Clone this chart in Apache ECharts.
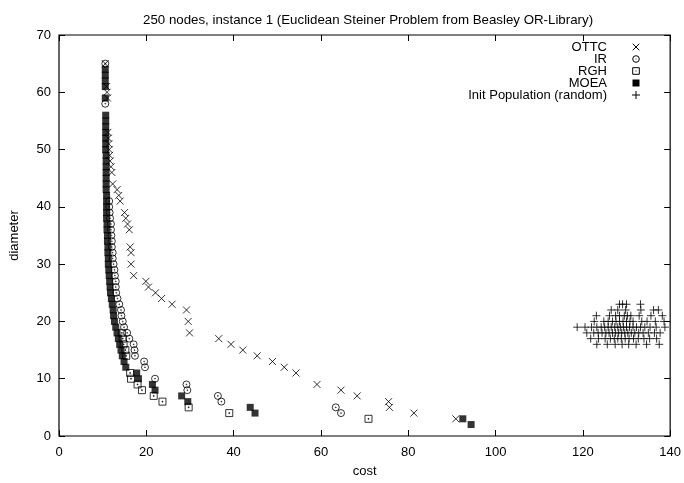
<!DOCTYPE html>
<html><head><meta charset="utf-8">
<script src="https://cdn.jsdelivr.net/npm/echarts@6/dist/echarts.min.js"></script>
<style>html,body{margin:0;padding:0;background:#fff}#c{width:684px;height:483px}</style>
</head><body><div id="c"></div>
<script>
const titleText = '250 nodes, instance 1 (Euclidean Steiner Problem from Beasley OR-Library)';
const seriesNames = ['OTTC', 'IR', 'RGH', 'MOEA', 'Init Population (random)'];
const xTicks = [0, 20, 40, 60, 80, 100, 120, 140];
const yTicks = [0, 10, 20, 30, 40, 50, 60, 70];

const ottc = [[10.6,65],[10.9,61],[11.0,60],[11.1,59],[11.2,53],[11.3,52],[11.4,51],[11.5,50],[11.6,49],[11.7,48],[11.9,47],[12.1,46],[12.3,44],[13.3,43],[13.7,42],[14.0,41],[15.0,39],[15.3,38],[15.7,37],[16.1,36],[16.3,33],[16.5,32],[16.5,30],[17.1,28],[19.9,27],[20.5,26],[22.1,25],[23.5,24],[25.9,23],[29.2,22],[29.6,20],[29.9,18],[36.6,17],[39.4,16],[42.1,15],[45.4,14],[48.9,13],[51.6,12],[54.3,11],[59.1,9],[64.6,8],[68.3,7],[75.5,6],[75.7,5],[81.3,4],[90.9,3]];

const ir = [[10.6,65],[10.6,58],[11.5,41],[11.5,40],[11.6,39],[11.7,38],[11.9,37],[11.9,36],[12.0,35],[12.1,34],[12.1,33],[12.3,32],[12.3,31],[12.5,30],[12.7,29],[12.8,28],[13.0,27],[13.0,26],[13.1,25],[13.4,24],[13.8,23],[14.2,22],[14.3,21],[14.6,20],[14.9,19],[15.6,18],[16.1,17],[17.1,16],[17.3,15],[17.4,14],[19.5,13],[19.7,12],[22.0,10],[29.2,9],[29.4,8],[36.4,7],[37.2,6],[63.4,5],[64.6,4]];

const rgh = [[14.4,18],[14.6,17],[14.8,16],[15.2,15],[15.4,14],[16.3,11],[16.5,10],[18.0,9],[19.0,8],[21.7,7],[23.7,6],[29.7,5],[39.0,4],[70.9,3]];

const moea = [[10.6,64],[10.6,63],[10.6,62],[10.6,61],[10.6,59],[10.7,56],[10.7,55],[10.7,54],[10.7,53],[10.7,52],[10.7,51],[10.7,50],[10.8,49],[10.8,48],[10.8,47],[10.8,46],[10.8,45],[10.8,44],[10.8,43],[10.9,42],[10.9,41],[10.9,40],[10.9,39],[10.9,38],[11.0,37],[11.0,36],[11.1,35],[11.1,34],[11.2,33],[11.2,32],[11.3,31],[11.3,30],[11.4,29],[11.5,28],[11.6,27],[11.7,26],[11.8,25],[12.0,24],[12.2,23],[12.4,22],[12.5,21],[12.7,20],[13.0,19],[13.3,18],[13.6,17],[13.9,16],[14.2,15],[14.5,14],[14.9,13],[15.3,12],[17.8,11],[18.2,10],[21.4,9],[22.0,8],[28.1,7],[29.5,6],[43.8,5],[44.9,4],[92.5,3],[94.4,2]];

const initPop = [
[128.4,23],[129.1,23],[130.0,23],[133.2,23],
[126.5,22],[128.0,22],[129.8,22],[133.3,22],[136.2,22],[137.3,22],
[123.1,21],[126.1,21],[127.5,21],[128.4,21],[129.5,21],[130.2,21],[131.0,21],[132.9,21],[135.6,21],[138.2,21],
[122.6,20],[124.8,20],[125.8,20],[126.8,20],[127.6,20],[128.4,20],[129.2,20],[130.0,20],[130.8,20],[131.5,20],[133.5,20],[134.7,20],[136.6,20],[138.6,20],
[118.7,19],[120.5,19],[122.0,19],[123.2,19],[124.2,19],[125.0,19],[125.8,19],[126.5,19],[127.3,19],[128.0,19],[128.6,19],[129.3,19],[130.0,19],[130.7,19],[131.5,19],[132.3,19],[133.2,19],[134.2,19],[135.4,19],[136.8,19],[138.8,19],
[120.9,18],[122.5,18],[123.5,18],[124.4,18],[125.3,18],[126.0,18],[126.8,18],[127.5,18],[128.2,18],[128.9,18],[129.6,18],[130.3,18],[131.1,18],[131.9,18],[132.8,18],[133.8,18],[135.0,18],[136.4,18],[137.7,18],
[121.8,17],[123.6,17],[125.1,17],[126.3,17],[127.2,17],[128.0,17],[128.8,17],[129.7,17],[130.6,17],[131.6,17],[132.7,17],[134.0,17],[135.3,17],[136.9,17],
[123.2,16],[125.6,16],[127.4,16],[129.0,16],[130.5,16],[132.2,16],[134.6,16],[137.5,16]
];

const FONT = '"Liberation Sans", Arial, Helvetica, sans-serif';
const SYM_X = 'path://M0,0L10,10M10,0L0,10';
const SYM_CIRC = 'path://M10,5A5,5,0,1,1,0,5A5,5,0,1,1,10,5Z M5.6,5A0.6,0.6,0,1,1,4.4,5A0.6,0.6,0,1,1,5.6,5Z';
const SYM_SQ = 'path://M0,0H10V10H0Z M4.4,4.4H5.6V5.6H4.4Z';
const SYM_PLUS = 'path://M5,0V10M0,5H10';

const hollow = {color: 'rgba(0,0,0,0)', borderColor: '#000', borderWidth: 1};

const chart = echarts.init(document.getElementById('c'), null, {renderer: 'canvas'});

const legendRight = 607, symX = 636, legTop = 47, legStep = 12;
const legGraphics = [];
seriesNames.forEach((n, i) => {
  legGraphics.push({type: 'text', x: legendRight, y: legTop + i * legStep,
    style: {text: n, x: 0, y: 0, align: 'right', verticalAlign: 'middle', font: '13px ' + FONT, fill: '#000'}});
});
const s = 3.3;
let y0 = legTop;
legGraphics.push({type: 'line', shape: {x1: symX - s, y1: y0 - s, x2: symX + s, y2: y0 + s}, style: {stroke: '#000', lineWidth: 1}});
legGraphics.push({type: 'line', shape: {x1: symX + s, y1: y0 - s, x2: symX - s, y2: y0 + s}, style: {stroke: '#000', lineWidth: 1}});
y0 = legTop + legStep;
legGraphics.push({type: 'circle', shape: {cx: symX, cy: y0, r: s}, style: {fill: 'none', stroke: '#000', lineWidth: 1}});
legGraphics.push({type: 'circle', shape: {cx: symX, cy: y0, r: 0.5}, style: {fill: '#000'}});
y0 = legTop + 2 * legStep;
legGraphics.push({type: 'rect', shape: {x: symX - s, y: y0 - s, width: 2 * s, height: 2 * s}, style: {fill: 'none', stroke: '#000', lineWidth: 1}});
legGraphics.push({type: 'rect', shape: {x: symX - 0.5, y: y0 - 0.5, width: 1, height: 1}, style: {fill: '#000'}});
y0 = legTop + 3 * legStep;
legGraphics.push({type: 'rect', shape: {x: symX - 3.5, y: y0 - 3.5, width: 7, height: 7}, style: {fill: '#000'}});
y0 = legTop + 4 * legStep;
legGraphics.push({type: 'line', shape: {x1: symX - 4, y1: y0, x2: symX + 4, y2: y0}, style: {stroke: '#000', lineWidth: 1}});
legGraphics.push({type: 'line', shape: {x1: symX, y1: y0 - 4, x2: symX, y2: y0 + 4}, style: {stroke: '#000', lineWidth: 1}});

const noLine = {show: false, onZero: false};
function tick() { return {show: true, inside: true, length: 6, lineStyle: {color: '#000', width: 1}}; }

chart.setOption({
  animation: false,
  backgroundColor: '#fff',
  title: {text: titleText, left: 138, top: 9, textStyle: {fontFamily: FONT, fontSize: 13.3, fontWeight: 'normal', color: '#000'}},
  grid: {left: 56, right: 13, top: 35, bottom: 45, show: true, borderColor: '#000', borderWidth: 1.2, containLabel: false},
  xAxis: [
    {type: 'value', min: 0, max: 140, interval: 20, name: 'cost', nameLocation: 'middle', nameGap: 29,
      nameTextStyle: {fontFamily: FONT, fontSize: 13, color: '#000'},
      axisLine: noLine, splitLine: {show: false}, axisTick: tick(),
      axisLabel: {fontFamily: FONT, fontSize: 13, color: '#000', margin: 10}},
    {type: 'value', min: 0, max: 140, interval: 20, position: 'top', axisLine: noLine, splitLine: {show: false}, axisTick: tick(), axisLabel: {show: false}}
  ],
  yAxis: [
    {type: 'value', min: 0, max: 70, interval: 10, name: 'diameter', nameLocation: 'middle', nameGap: 38,
      nameTextStyle: {fontFamily: FONT, fontSize: 13, color: '#000'},
      axisLine: noLine, splitLine: {show: false}, axisTick: tick(),
      axisLabel: {fontFamily: FONT, fontSize: 13, color: '#000', margin: 8}},
    {type: 'value', min: 0, max: 70, interval: 10, position: 'right', axisLine: noLine, splitLine: {show: false}, axisTick: tick(), axisLabel: {show: false}}
  ],
  graphic: legGraphics,
  series: [
    {name: seriesNames[0], type: 'scatter', data: ottc, symbol: SYM_X, symbolSize: 7, itemStyle: hollow, silent: true},
    {name: seriesNames[1], type: 'scatter', data: ir, symbol: SYM_CIRC, symbolSize: 7, itemStyle: hollow, silent: true},
    {name: seriesNames[2], type: 'scatter', data: rgh, symbol: SYM_SQ, symbolSize: 7, itemStyle: hollow, silent: true},
    {name: seriesNames[3], type: 'scatter', data: moea, symbol: 'rect', symbolSize: 7, itemStyle: {color: '#000'}, silent: true},
    {name: seriesNames[4], type: 'scatter', data: initPop, symbol: SYM_PLUS, symbolSize: 8, itemStyle: hollow, silent: true}
  ]
});
</script>
</body></html>
